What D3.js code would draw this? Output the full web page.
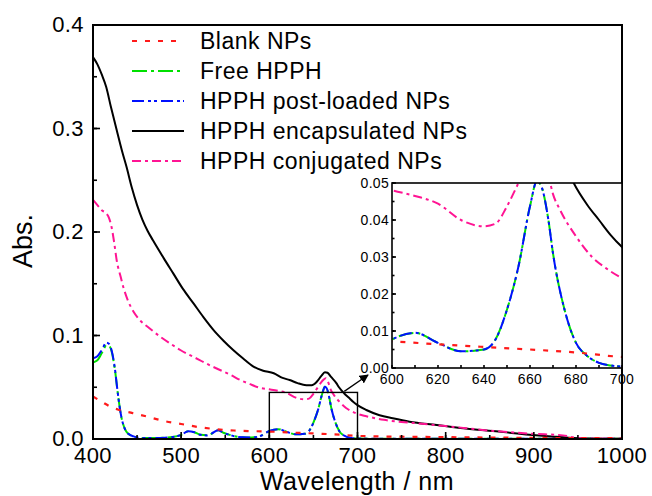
<!DOCTYPE html>
<html>
<head>
<meta charset="utf-8">
<script src="https://cdn.jsdelivr.net/npm/d3@7"></script>
<style>
  body { margin: 0; background: #fff; }
  svg { display: block; font-family: "Liberation Sans", Arial, sans-serif; }
</style>
</head>
<body>
<div id="chart"></div>
<script>
// absorbance spectra
var blankWl = [400, 410, 420, 430, 445, 460, 480, 500, 520, 540, 560, 580, 600, 620, 640, 660, 680, 700, 750, 800, 850, 900, 950, 1000]
var blankAbs = [0.041, 0.036, 0.031, 0.028, 0.025, 0.022, 0.0175, 0.0145, 0.0115, 0.0095, 0.0082, 0.0076, 0.0072, 0.0064, 0.0057, 0.0050, 0.0042, 0.0030, 0.0022, 0.0018, 0.0014, 0.0011, 0.0009, 0.0008]

var hpphWl = [400, 405, 410, 415, 418, 421, 425, 428, 432, 436, 440, 446, 455, 470, 490, 500, 508, 515, 522, 530, 537, 542, 548, 555, 565, 580, 590, 600, 610, 620, 630, 640, 645, 650, 655, 660, 663, 665, 668, 670, 675, 680, 685, 690, 695, 700, 750, 800, 900, 1000]
var freeAbs = [0.074, 0.076, 0.083, 0.090, 0.090, 0.085, 0.066, 0.045, 0.022, 0.010, 0.005, 0.0025, 0.001, 0.001, 0.002, 0.004, 0.0075, 0.0065, 0.004, 0.0035, 0.0065, 0.0085, 0.006, 0.004, 0.002, 0.0015, 0.003, 0.0077, 0.0095, 0.0068, 0.0045, 0.005, 0.0077, 0.0158, 0.0275, 0.0437, 0.0505, 0.049, 0.040, 0.031, 0.0158, 0.0068, 0.0032, 0.0014, 0.0007, 0.0004, 0.0003, 0.0003, 0.0003, 0.0003]
var postAbs = [0.078, 0.080, 0.086, 0.093, 0.092, 0.086, 0.067, 0.045, 0.022, 0.010, 0.005, 0.0025, 0.001, 0.001, 0.002, 0.004, 0.0075, 0.0065, 0.004, 0.0035, 0.0065, 0.0085, 0.006, 0.004, 0.002, 0.0015, 0.003, 0.0077, 0.0095, 0.0068, 0.0045, 0.005, 0.0077, 0.0158, 0.0275, 0.0437, 0.0505, 0.049, 0.040, 0.031, 0.0158, 0.0068, 0.0032, 0.0014, 0.0007, 0.0004, 0.0003, 0.0003, 0.0003, 0.0003]

var encapWl = [400, 405, 410, 415, 420, 427, 433, 438, 444, 450, 456, 462, 468, 480, 491, 502, 514, 525, 537, 548, 559, 570, 582, 593, 605, 615, 623, 632, 642, 648, 654, 659, 663, 666, 670, 676, 679, 685, 690, 695, 700, 710, 725, 740, 759, 790, 820, 860, 895, 920, 950, 975, 1000]
var encapAbs = [0.369, 0.362, 0.352, 0.340, 0.322, 0.298, 0.278, 0.263, 0.243, 0.226, 0.212, 0.201, 0.192, 0.175, 0.160, 0.145, 0.131, 0.118, 0.105, 0.095, 0.086, 0.078, 0.070, 0.066, 0.0635, 0.059, 0.057, 0.054, 0.052, 0.052, 0.0555, 0.061, 0.0645, 0.064, 0.060, 0.054, 0.050, 0.044, 0.040, 0.036, 0.0327, 0.028, 0.023, 0.020, 0.0167, 0.0135, 0.0103, 0.0072, 0.0042, 0.0025, 0.0008, 0.0003, 0.0002]

var conjWl = [400, 405, 410, 415, 418, 421, 424, 427, 431, 435, 440, 446, 453, 464, 476, 488, 499, 510, 521, 533, 544, 556, 567, 578, 589, 600, 610, 620, 630, 640, 645, 650, 655, 660, 664, 668, 670, 673, 680, 687, 693, 700, 710, 730, 763, 800, 858, 900, 933, 950, 975, 1000]
var conjAbs = [0.231, 0.226, 0.221, 0.218, 0.214, 0.205, 0.190, 0.172, 0.158, 0.145, 0.133, 0.123, 0.115, 0.107, 0.099, 0.092, 0.086, 0.081, 0.0763, 0.071, 0.0667, 0.062, 0.057, 0.053, 0.0495, 0.048, 0.0465, 0.0444, 0.040, 0.0383, 0.039, 0.0437, 0.050, 0.056, 0.0586, 0.052, 0.047, 0.0428, 0.0356, 0.030, 0.027, 0.0243, 0.022, 0.0185, 0.0155, 0.0125, 0.0075, 0.005, 0.0035, 0.001, 0.0004, 0.0003]

var seriesNames = ['Blank NPs', 'Free HPPH', 'HPPH post-loaded NPs', 'HPPH encapsulated NPs', 'HPPH conjugated NPs']
var xTicks = [400, 500, 600, 700, 800, 900, 1000]
var yTicks = [0.0, 0.1, 0.2, 0.3, 0.4]
var insetXTicks = [600, 620, 640, 660, 680, 700]
var insetYTicks = [0.00, 0.01, 0.02, 0.03, 0.04, 0.05]

var series = [
  { name: seriesNames[1], wl: hpphWl, abs: freeAbs, color: '#00e000', dash: '15,4,3,4', width: 2 },
  { name: seriesNames[2], wl: hpphWl, abs: postAbs, color: '#0010ff', dash: '12,4,3,3,3,4', width: 2 },
  { name: seriesNames[3], wl: encapWl, abs: encapAbs, color: '#000', dash: null, width: 2 },
  { name: seriesNames[4], wl: conjWl, abs: conjAbs, color: '#ff1493', dash: '9,4,3,4', width: 2 },
  { name: seriesNames[0], wl: blankWl, abs: blankAbs, color: '#ff1a1a', dash: '5,8', width: 2.2 }
]
var legendOrder = [4, 0, 1, 2, 3]

var W = 652
var H = 496
var margin = { top: 25, right: 30, bottom: 57, left: 93 }

var svg = d3.select('#chart').append('svg')
  .attr('width', W)
  .attr('height', H)

var x = d3.scaleLinear().domain([400, 1000]).range([margin.left, W - margin.right])
var y = d3.scaleLinear().domain([0, 0.4]).range([H - margin.bottom, margin.top])

function toPoints (s) {
  return s.wl.map(function (w, i) { return [w, s.abs[i]] })
}

function drawLines (g, xs, ys) {
  var line = d3.line()
    .x(function (d) { return xs(d[0]) })
    .y(function (d) { return ys(d[1]) })
    .curve(d3.curveMonotoneX)
  series.forEach(function (s) {
    g.append('path')
      .attr('d', line(toPoints(s)))
      .attr('fill', 'none')
      .attr('stroke', s.color)
      .attr('stroke-width', s.width)
      .attr('stroke-dasharray', s.dash)
  })
}

function inwardTicks (g, scale, values, len, orient, pos) {
  values.forEach(function (v) {
    var p = scale(v)
    if (orient === 'x') {
      g.append('line').attr('x1', p).attr('x2', p).attr('y1', pos).attr('y2', pos - len)
    } else {
      g.append('line').attr('y1', p).attr('y2', p).attr('x1', pos).attr('x2', pos + len)
    }
  })
  g.attr('stroke', '#000').attr('stroke-width', 1.6)
}

// ---- main plot
svg.append('clipPath').attr('id', 'clipMain')
  .append('rect')
  .attr('x', x(400)).attr('y', y(0.4))
  .attr('width', x(1000) - x(400)).attr('height', y(0) - y(0.4))

drawLines(svg.append('g').attr('clip-path', 'url(#clipMain)'), x, y)

// zoom box and arrow
svg.append('rect')
  .attr('x', x(600)).attr('y', y(0.045))
  .attr('width', x(700) - x(600)).attr('height', y(0) - y(0.045))
  .attr('fill', 'none').attr('stroke', '#000').attr('stroke-width', 1.4)

svg.append('defs').append('marker')
  .attr('id', 'arrow').attr('viewBox', '0 0 10 10')
  .attr('refX', 9).attr('refY', 5)
  .attr('markerWidth', 7).attr('markerHeight', 7)
  .attr('orient', 'auto')
  .append('path').attr('d', 'M0,0L10,5L0,10z').attr('fill', '#000')

inwardTicks(svg.append('g'), x, d3.range(400, 1001, 50), 4, 'x', y(0))
inwardTicks(svg.append('g'), x, xTicks, 7, 'x', y(0))
inwardTicks(svg.append('g'), y, d3.range(0, 0.401, 0.05), 4, 'y', x(400))
inwardTicks(svg.append('g'), y, yTicks, 7, 'y', x(400))

svg.append('rect')
  .attr('x', x(400)).attr('y', y(0.4))
  .attr('width', x(1000) - x(400)).attr('height', y(0) - y(0.4))
  .attr('fill', 'none').attr('stroke', '#000').attr('stroke-width', 2)

svg.append('g').selectAll('text').data(xTicks).join('text')
  .attr('x', function (d) { return x(d) })
  .attr('y', y(0) + 23.5)
  .attr('text-anchor', 'middle')
  .attr('font-size', 22)
  .attr('letter-spacing', 0.4)
  .text(function (d) { return d })

svg.append('g').selectAll('text').data(yTicks).join('text')
  .attr('x', x(400) - 9)
  .attr('y', function (d) { return y(d) + 7 })
  .attr('text-anchor', 'end')
  .attr('font-size', 22)
  .attr('letter-spacing', 0.4)
  .text(function (d) { return d3.format('.1f')(d) })

svg.append('text')
  .attr('x', 357).attr('y', 490)
  .attr('text-anchor', 'middle')
  .attr('font-size', 25)
  .attr('letter-spacing', 0.5)
  .text('Wavelength / nm')

svg.append('text')
  .attr('transform', 'translate(32,241) rotate(-90)')
  .attr('text-anchor', 'middle')
  .attr('font-size', 27)
  .text('Abs.')

// ---- legend
var legend = svg.append('g')
legendOrder.forEach(function (si, i) {
  var s = series[si]
  var ly = 41 + i * 30
  legend.append('line')
    .attr('x1', 132).attr('x2', 184).attr('y1', ly).attr('y2', ly)
    .attr('stroke', s.color).attr('stroke-width', s.width)
    .attr('stroke-dasharray', s.dash)
  legend.append('text')
    .attr('x', 200).attr('y', ly + 8)
    .attr('font-size', 23)
    .attr('letter-spacing', 0.5)
    .text(s.name)
})

// ---- inset
var ix = d3.scaleLinear().domain([600, 700]).range([392, x(1000)])
var iy = d3.scaleLinear().domain([0, 0.05]).range([368, 183])

var inset = svg.append('g')
inset.append('rect')
  .attr('x', ix(600)).attr('y', iy(0.05))
  .attr('width', ix(700) - ix(600)).attr('height', iy(0) - iy(0.05))
  .attr('fill', '#fff')

inset.append('clipPath').attr('id', 'clipInset')
  .append('rect')
  .attr('x', ix(600)).attr('y', iy(0.05))
  .attr('width', ix(700) - ix(600)).attr('height', iy(0) - iy(0.05))

drawLines(inset.append('g').attr('clip-path', 'url(#clipInset)'), ix, iy)

inwardTicks(inset.append('g'), ix, d3.range(600, 701, 10), 3, 'x', iy(0))
inwardTicks(inset.append('g'), iy, d3.range(0, 0.0501, 0.005), 2.5, 'y', ix(600))
inwardTicks(inset.append('g'), iy, insetYTicks, 4, 'y', ix(600))

inset.append('rect')
  .attr('x', ix(600)).attr('y', iy(0.05))
  .attr('width', ix(700) - ix(600)).attr('height', iy(0) - iy(0.05))
  .attr('fill', 'none').attr('stroke', '#000').attr('stroke-width', 1.6)

inset.append('g').selectAll('text').data(insetXTicks).join('text')
  .attr('x', function (d) { return ix(d) })
  .attr('y', iy(0) + 16)
  .attr('text-anchor', 'middle')
  .attr('font-size', 14)
  .attr('letter-spacing', 0.3)
  .text(function (d) { return d })

inset.append('g').selectAll('text').data(insetYTicks).join('text')
  .attr('x', ix(600) - 3)
  .attr('y', function (d) { return iy(d) + 4.5 })
  .attr('text-anchor', 'end')
  .attr('font-size', 14)
  .attr('letter-spacing', 0.3)
  .text(function (d) { return d3.format('.2f')(d) })

svg.append('line')
  .attr('x1', x(685)).attr('y1', y(0.046))
  .attr('x2', ix(600) - 24).attr('y2', iy(0) + 7)
  .attr('stroke', '#000').attr('stroke-width', 1.3)
  .attr('marker-end', 'url(#arrow)')
</script>
</body>
</html>
